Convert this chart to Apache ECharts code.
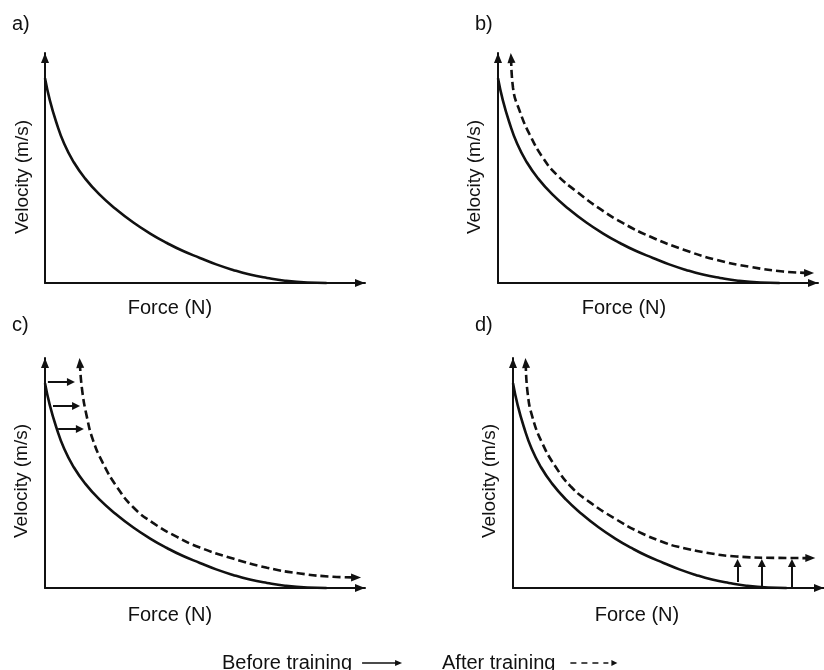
<!DOCTYPE html>
<html>
<head>
<meta charset="utf-8">
<script src="https://cdn.jsdelivr.net/npm/echarts@6/dist/echarts.min.js"></script>
<style>
  html, body { margin: 0; padding: 0; background: #ffffff; }
  #chart { width: 824px; height: 670px; }
</style>
</head>
<body>
<div id="chart"></div>
<script>
// Force–velocity profiles, arbitrary units (0–100 on both axes)
const panelLetters = ['a)', 'b)', 'c)', 'd)'];
const xTitle = 'Force (N)';
const yTitle = 'Velocity (m/s)';
const seriesNames = ['Before training', 'After training'];

// Baseline curve, shared by every panel: [force, velocity]
const beforeTraining = [
  [0, 89], [1.5, 79.5], [3.5, 70.0], [6, 60.5], [9, 52.5], [12.5, 45.5],
  [17, 38.5], [22, 32.3], [27.5, 26.4], [33, 21.4], [38.1, 17.4], [43, 14.0],
  [48.4, 10.9], [53.5, 8.1], [58.75, 5.7], [64, 3.7], [69.4, 2.2], [75, 1.0],
  [82, 0.2], [88, 0]
];
// b) whole curve shifted up
const afterB = [
  [4.1, 97.8], [4.7, 84.8], [6.9, 74.3], [10, 64.3], [14.1, 54.3], [18.4, 47.0],
  [24.7, 39.6], [31.9, 32.2], [39.1, 26.0], [47.5, 20.2], [57.8, 14.6],
  [68.4, 10.0], [78.8, 7.0], [89.1, 5.0], [97.2, 4.4]
];
// c) gain at the high-velocity end
const afterC = [
  [10.9, 97.8], [11.6, 86.1], [13.1, 74.3], [15, 64.3], [18.1, 54.3], [22.5, 43.9],
  [27.5, 35.2], [33.75, 28.3], [41.25, 22.2], [48.4, 17.6], [58.75, 12.8],
  [69.4, 8.8], [79.7, 6.3], [90, 4.9], [97.2, 4.6]
];
// d) gain at the high-force end
const afterD = [
  [4.1, 97.8], [4.7, 84.8], [6.25, 74.3], [9.4, 63.0], [13.75, 52.6], [18.75, 43.9],
  [25, 37.0], [32.5, 30.4], [40.6, 24.3], [49, 19.6], [53.1, 17.9],
  [63.75, 15.0], [71.9, 13.7], [84.4, 13.1], [95.6, 13.0]
];
// c) horizontal shift arrows: [fromForce, toForce, velocity]
const shiftArrowsC = [[0.9, 8.1, 89.6], [2.5, 9.7, 79.1], [4.1, 10.9, 69.1]];
// d) vertical lift arrows: [force, fromVelocity, toVelocity]
const liftArrowsD = [[72.2, 2.6, 10.9], [80, 0, 10.9], [89.7, 0, 10.9]];

const INK = '#111111';
const FONT = "'Liberation Sans', Arial, sans-serif";

// Panel placement (pixels)
const panels = [
  { left: 45,  top: 53,  letter: [12, 24],  force: [170, 308], vel: [23, 177] },
  { left: 498, top: 53,  letter: [475, 24], force: [624, 308], vel: [475, 177] },
  { left: 45,  top: 358, letter: [12, 325], force: [170, 615], vel: [22, 481] },
  { left: 513, top: 358, letter: [475, 325], force: [637, 615], vel: [490, 481] }
];
const afterByPanel = [null, afterB, afterC, afterD];

const axisLine = {
  show: true,
  onZero: false,
  symbol: ['none', 'triangle'],
  symbolSize: [8, 10],
  symbolOffset: [0, -5],
  lineStyle: { color: INK, width: 2 }
};

const grids = panels.map(p => ({ left: p.left, top: p.top, width: 320, height: 230 }));
const xAxes = panels.map((p, i) => ({
  type: 'value', gridIndex: i, min: 0, max: 100,
  axisLine, axisTick: { show: false }, axisLabel: { show: false }, splitLine: { show: false }
}));
const yAxes = panels.map((p, i) => ({
  type: 'value', gridIndex: i, min: 0, max: 100,
  axisLine, axisTick: { show: false }, axisLabel: { show: false }, splitLine: { show: false }
}));

function withEndArrows(points) {
  return points.map((pt, i) => {
    if (i === 0) return { value: pt, symbol: 'triangle', symbolSize: [8, 10], symbolRotate: 4 };
    if (i === points.length - 1) return { value: pt, symbol: 'triangle', symbolSize: [8, 10], symbolRotate: -90 };
    return { value: pt };
  });
}

const series = [];
panels.forEach((p, i) => {
  series.push({
    name: seriesNames[0], type: 'line', xAxisIndex: i, yAxisIndex: i,
    data: beforeTraining, smooth: 0.5, symbol: 'none', clip: false,
    lineStyle: { color: INK, width: 2.6 }, itemStyle: { color: INK },
    emphasis: { disabled: true }, silent: true, z: 3
  });
  const after = afterByPanel[i];
  if (after) {
    const s = {
      name: seriesNames[1], type: 'line', xAxisIndex: i, yAxisIndex: i,
      data: withEndArrows(after), smooth: 0.5, symbol: 'none', showSymbol: true, clip: false,
      lineStyle: { color: INK, width: 2.6, type: [8, 4] },
      itemStyle: { color: INK, borderWidth: 0 },
      emphasis: { disabled: true }, silent: true, z: 3
    };
    if (i === 2) {
      s.markLine = {
        silent: true, symbol: ['none', 'triangle'], symbolSize: 8,
        label: { show: false }, lineStyle: { color: INK, width: 2, type: 'solid' },
        emphasis: { disabled: true },
        data: shiftArrowsC.map(a => [{ coord: [a[0], a[2]] }, { coord: [a[1], a[2]] }])
      };
    }
    if (i === 3) {
      s.markLine = {
        silent: true, symbol: ['none', 'triangle'], symbolSize: 8,
        label: { show: false }, lineStyle: { color: INK, width: 2, type: 'solid' },
        emphasis: { disabled: true },
        data: liftArrowsD.map(a => [{ coord: [a[0], a[1]] }, { coord: [a[0], a[2]] }])
      };
    }
    series.push(s);
  }
});

const graphicTexts = [];
panels.forEach((p, i) => {
  graphicTexts.push({
    type: 'text', x: p.letter[0], y: p.letter[1],
    style: { text: panelLetters[i], font: '20px ' + FONT, fill: INK, align: 'left', verticalAlign: 'middle' }
  });
  graphicTexts.push({
    type: 'text', x: p.force[0], y: p.force[1],
    style: { text: xTitle, font: '20px ' + FONT, fill: INK, align: 'center', verticalAlign: 'middle' }
  });
  graphicTexts.push({
    type: 'text', x: p.vel[0], y: p.vel[1], rotation: Math.PI / 2,
    style: { text: yTitle, font: '19px ' + FONT, fill: INK, align: 'center', verticalAlign: 'middle' }
  });
});

const solidArrowIcon = 'path://M0,2.3 L33,2.3 L33,0 L40,3 L33,6 L33,3.7 L0,3.7 Z';
const dashedArrowIcon = 'path://M0,2.3 L6,2.3 L6,3.7 L0,3.7 Z M11,2.3 L17,2.3 L17,3.7 L11,3.7 Z ' +
  'M22,2.3 L28,2.3 L28,3.7 L22,3.7 Z M33,2.3 L38,2.3 L38,3.7 L33,3.7 Z M41,0 L47,3 L41,6 Z';

const legendText = { fontSize: 20, fontFamily: FONT, color: INK };

const option = {
  backgroundColor: '#ffffff',
  animation: false,
  grid: grids,
  xAxis: xAxes,
  yAxis: yAxes,
  series,
  legend: [
    {
      data: [{ name: seriesNames[0], icon: solidArrowIcon }],
      left: 217, top: 648, align: 'right', itemWidth: 40, itemHeight: 6,
      selectedMode: false, textStyle: Object.assign({ padding: [0, 5, 0, 0] }, legendText),
      itemStyle: { color: INK, borderWidth: 0 }
    },
    {
      data: [{ name: seriesNames[1], icon: dashedArrowIcon }],
      left: 437, top: 648, align: 'right', itemWidth: 47, itemHeight: 6,
      selectedMode: false, textStyle: Object.assign({ padding: [0, 10, 0, 0] }, legendText),
      itemStyle: { color: INK, borderWidth: 0 }
    }
  ],
  graphic: graphicTexts
};

const chart = echarts.init(document.getElementById('chart'), null, { renderer: 'canvas' });
chart.setOption(option);
</script>
</body>
</html>
